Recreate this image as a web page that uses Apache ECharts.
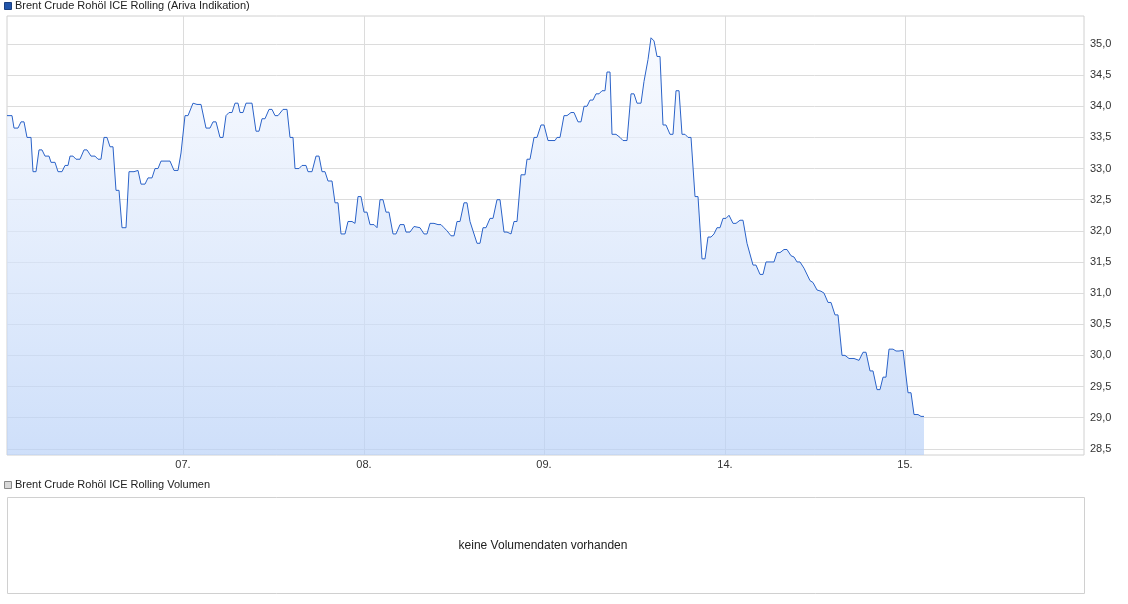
<!DOCTYPE html>
<html>
<head>
<meta charset="utf-8">
<script src="https://cdn.jsdelivr.net/npm/echarts@6/dist/echarts.min.js"></script>
<style>
  html, body { margin: 0; padding: 0; background: #fff; }
  #chart { width: 1128px; height: 604px; }
</style>
</head>
<body>
<div id="chart"></div>
<script>
"use strict";

// time index (1 day = 180.5 units) and price
var times = [7,12,14,18,21,24,27,31,33,36,39,42,45,49,51,55,58,62,65,68,70,73,76,80,84,87,91,95,98,101,104,107,110,113,116,119,122,126,129,134,138,141,145,148,152,155,158,161,166,170,174,178,181,185,188,193,197,201,206,210,213,216,220,223,226,229,232,235,238,240,243,246,252,256,259,262,265,269,272,275,278,283,287,290,293,295,299,302,306,308,312,316,319,322,325,328,332,335,338,341,345,348,352,355,358,361,364,367,370,374,377,380,383,386,389,393,396,400,404,406,410,414,420,424,427,430,434,438,441,444,447,451,454,457,460,464,467,470,472,477,480,483,486,490,493,497,500,504,507,511,514,517,521,525,527,530,534,537,541,544,548,551,555,557,560,564,567,571,574,578,581,584,587,590,593,596,599,602,605,607,610,612,616,620,623,627,631,634,637,641,644,646,648,651,654,657,660,663,666,670,673,676,679,682,685,688,691,695,698,702,705,708,711,714,717,720,723,726,729,733,736,740,743,747,749,753,756,760,763,766,774,777,780,784,787,791,794,797,800,804,806,810,813,817,821,824,828,831,835,838,842,845,849,854,859,863,866,870,873,877,880,883,886,889,893,896,899,903,905,908,911,914,918,921,924];
var prices = [33.85,33.85,33.65,33.65,33.75,33.75,33.5,33.5,32.95,32.95,33.3,33.3,33.2,33.2,33.1,33.1,32.95,32.95,33.05,33.05,33.2,33.2,33.15,33.15,33.3,33.3,33.2,33.2,33.15,33.15,33.5,33.5,33.35,33.35,32.65,32.65,32.05,32.05,32.95,32.95,32.97,32.75,32.75,32.85,32.85,33.0,33.0,33.12,33.12,33.12,32.97,32.97,33.25,33.85,33.85,34.05,34.03,34.03,33.65,33.65,33.75,33.75,33.5,33.5,33.85,33.9,33.9,34.05,34.05,33.9,33.9,34.05,34.05,33.6,33.6,33.8,33.8,33.95,33.95,33.85,33.85,33.95,33.95,33.5,33.5,33.0,33.0,33.05,33.05,32.95,32.95,33.2,33.2,32.95,32.95,32.8,32.8,32.45,32.45,31.95,31.95,32.15,32.15,32.12,32.55,32.55,32.3,32.3,32.1,32.1,32.05,32.5,32.5,32.3,32.3,31.95,31.95,32.1,32.1,31.98,31.98,32.07,32.05,31.95,31.95,32.12,32.12,32.1,32.1,32.05,32.0,31.92,31.92,32.15,32.15,32.45,32.45,32.15,32.15,31.8,31.8,32.05,32.05,32.2,32.2,32.5,32.5,31.98,31.98,31.95,32.15,32.15,32.9,32.9,33.15,33.15,33.5,33.5,33.7,33.7,33.45,33.45,33.45,33.5,33.5,33.85,33.85,33.9,33.9,33.75,33.75,34.0,34.0,34.1,34.1,34.2,34.2,34.25,34.25,34.55,34.55,33.55,33.55,33.5,33.45,33.45,34.2,34.2,34.05,34.05,34.4,34.4,34.75,35.1,35.05,34.8,34.8,33.7,33.7,33.55,33.55,34.25,34.25,33.55,33.55,33.5,33.5,32.55,32.55,31.55,31.55,31.9,31.9,31.95,32.05,32.05,32.2,32.2,32.25,32.12,32.12,32.17,32.17,31.8,31.8,31.45,31.45,31.3,31.3,31.5,31.5,31.65,31.65,31.7,31.7,31.6,31.58,31.5,31.5,31.4,31.4,31.2,31.17,31.05,31.03,31.0,30.85,30.85,30.65,30.65,30.0,30.0,29.95,29.95,29.92,30.05,30.05,29.75,29.75,29.45,29.45,29.65,29.65,30.1,30.1,30.07,30.07,30.08,30.08,29.4,29.4,29.05,29.05,29.02,29.02];
var dayTicks = [183, 364, 544, 725, 905];
var dayLabels = ["07.", "08.", "09.", "14.", "15."];
var priceTicks = [28.5,29.0,29.5,30.0,30.5,31.0,31.5,32.0,32.5,33.0,33.5,34.0,34.5,35.0];

var T0 = 7;
var data = times.map(function (t, i) { return [t - T0, prices[i]]; });
var tickVals = dayTicks.map(function (t) { return t - T0; });

var chart = echarts.init(document.getElementById("chart"));
var font = "Liberation Sans, Arial, sans-serif";

chart.setOption({
  animation: false,
  grid: {
    left: 7, top: 16, width: 1077, height: 439,
    show: true, borderColor: "#d0d0d0", borderWidth: 1
  },
  xAxis: {
    type: "value",
    min: 0, max: 1077,
    axisLine: { show: false },
    axisTick: { show: false, customValues: tickVals },
    axisLabel: {
      customValues: tickVals,
      fontFamily: font, fontSize: 11, color: "#333", margin: 4,
      formatter: function (v) {
        var i = tickVals.indexOf(v);
        return i >= 0 ? dayLabels[i] : "";
      }
    },
    splitLine: { show: true, lineStyle: { color: "#dcdcdc" } }
  },
  yAxis: {
    type: "value",
    position: "right",
    min: 28.4, max: 35.45,
    axisLine: { show: false },
    axisTick: { show: false, customValues: priceTicks },
    axisLabel: {
      customValues: priceTicks,
      fontFamily: font, fontSize: 11, color: "#333", margin: 6,
      formatter: function (v) { return v.toFixed(1).replace(".", ","); }
    },
    splitLine: { show: true, lineStyle: { color: "#dcdcdc" } }
  },
  series: [{
    type: "line",
    data: data,
    symbol: "none",
    lineStyle: { color: "#2a62c8", width: 1 },
    areaStyle: {
      color: new echarts.graphic.LinearGradient(0, 0, 0, 1, [
        { offset: 0, color: "#f5f8fe" },
        { offset: 1, color: "#b9d1f7" }
      ]),
      origin: "start"
    }
  }],
  graphic: [
    { type: "rect", left: 4, top: 2, shape: { width: 7, height: 7 },
      style: { fill: "#2255aa", stroke: "#1a3f80" } },
    { type: "text", left: 15, top: 0,
      style: { text: "Brent Crude Rohöl ICE Rolling (Ariva Indikation)", font: "11px " + font, fill: "#222" } },
    { type: "rect", left: 4, top: 481, shape: { width: 7, height: 7 },
      style: { fill: "#d8d8d8", stroke: "#888" } },
    { type: "text", left: 15, top: 479,
      style: { text: "Brent Crude Rohöl ICE Rolling Volumen", font: "11px " + font, fill: "#222" } },
    { type: "rect", left: 7, top: 497, shape: { width: 1077, height: 96 },
      style: { fill: "#fff", stroke: "#d0d0d0", lineWidth: 1 } },
    { type: "text", x: 543, y: 546,
      style: { text: "keine Volumendaten vorhanden", font: "12px " + font, fill: "#222",
        align: "center", verticalAlign: "middle" } }
  ]
});
</script>
</body>
</html>
